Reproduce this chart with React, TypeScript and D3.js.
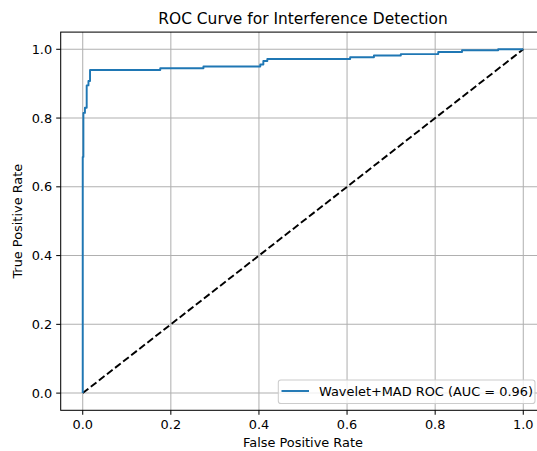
import React from "react";
import * as d3 from "d3";

const fpr = [0, 0, 0.0015, 0.0015, 0.005, 0.005, 0.009, 0.009, 0.013, 0.013, 0.0166, 0.0166, 0.176, 0.176, 0.274, 0.274, 0.403, 0.403, 0.41, 0.41, 0.419, 0.419, 0.607, 0.607, 0.661, 0.661, 0.722, 0.722, 0.807, 0.807, 0.861, 0.861, 0.943, 0.943, 0.98, 0.98, 1.0];
const tpr = [0, 0.687, 0.687, 0.815, 0.815, 0.83, 0.83, 0.895, 0.895, 0.908, 0.908, 0.94, 0.94, 0.945, 0.945, 0.95, 0.95, 0.956, 0.956, 0.966, 0.966, 0.972, 0.972, 0.977, 0.977, 0.982, 0.982, 0.986, 0.986, 0.992, 0.992, 0.997, 0.997, 1.0, 1.0, 1.0, 1.0];
const diagX = [0, 1];
const diagY = [0, 1];
const ticks = [0, 0.2, 0.4, 0.6, 0.8, 1.0];
const tickLabels = ["0.0", "0.2", "0.4", "0.6", "0.8", "1.0"];
const title = "ROC Curve for Interference Detection";
const xLabel = "False Positive Rate";
const yLabel = "True Positive Rate";
const legendLabel = "Wavelet+MAD ROC (AUC = 0.96)";

const W = 537;
const H = 451;
const L = 60.7, R = 545.3, T = 32.1, B = 410.3;
const FONT = "DejaVu Sans";
const FS = 12.9;

export default function App() {
  const x = d3.scaleLinear().domain([-0.05, 1.05]).range([L, R]);
  const y = d3.scaleLinear().domain([-0.05, 1.05]).range([B, T]);
  const pts: [number, number][] = fpr.map((f, i) => [f, tpr[i]]);
  const line = d3.line<[number, number]>().x((d) => x(d[0])).y((d) => y(d[1]));
  const diag: [number, number][] = diagX.map((v, i) => [v, diagY[i]]);
  const cx = (L + R) / 2;
  return (
    <svg width={W} height={H} style={{ position: "absolute", left: 0, top: 0, background: "#fff" }} fontFamily={FONT}>
      <rect x={0} y={0} width={W} height={H} fill="#fff" />
      {ticks.map((t, i) => (
        <g key={"g" + i}>
          <line x1={x(t)} x2={x(t)} y1={T} y2={B} stroke="#b0b0b0" strokeWidth={1.03} />
          <line x1={L} x2={R} y1={y(t)} y2={y(t)} stroke="#b0b0b0" strokeWidth={1.03} />
        </g>
      ))}
      <path d={line(diag) || ""} fill="none" stroke="#000" strokeWidth={1.93} strokeDasharray="7.15,3.1" />
      <path d={line(pts) || ""} fill="none" stroke="#1f77b4" strokeWidth={1.93} strokeLinejoin="round" />
      <rect x={L} y={T} width={R - L} height={B - T} fill="none" stroke="#000" strokeWidth={1.03} />
      {ticks.map((t, i) => (
        <g key={"t" + i}>
          <line x1={x(t)} x2={x(t)} y1={B} y2={B + 4.5} stroke="#000" strokeWidth={1.03} />
          <text x={x(t)} y={B + 19} fontSize={FS} textAnchor="middle" fill="#000">{tickLabels[i]}</text>
          <line x1={L - 4.5} x2={L} y1={y(t)} y2={y(t)} stroke="#000" strokeWidth={1.03} />
          <text x={L - 8.5} y={y(t)} dy="0.36em" fontSize={FS} textAnchor="end" fill="#000">{tickLabels[i]}</text>
        </g>
      ))}
      <text x={cx} y={24} fontSize={15.45} textAnchor="middle" fill="#000">{title}</text>
      <text x={cx} y={446.5} fontSize={FS} textAnchor="middle" fill="#000">{xLabel}</text>
      <text transform={`translate(22,${(T + B) / 2}) rotate(-90)`} fontSize={FS} textAnchor="middle" fill="#000">{yLabel}</text>
      <rect x={278.3} y={380} width={256.7} height={23.5} rx={2.6} fill="#fff" fillOpacity={0.8} stroke="#cccccc" strokeWidth={1.03} />
      <line x1={281.5} x2={309} y1={391} y2={391} stroke="#1f77b4" strokeWidth={1.93} />
      <text x={319} y={395.6} fontSize={FS} fill="#000">{legendLabel}</text>
    </svg>
  );
}
